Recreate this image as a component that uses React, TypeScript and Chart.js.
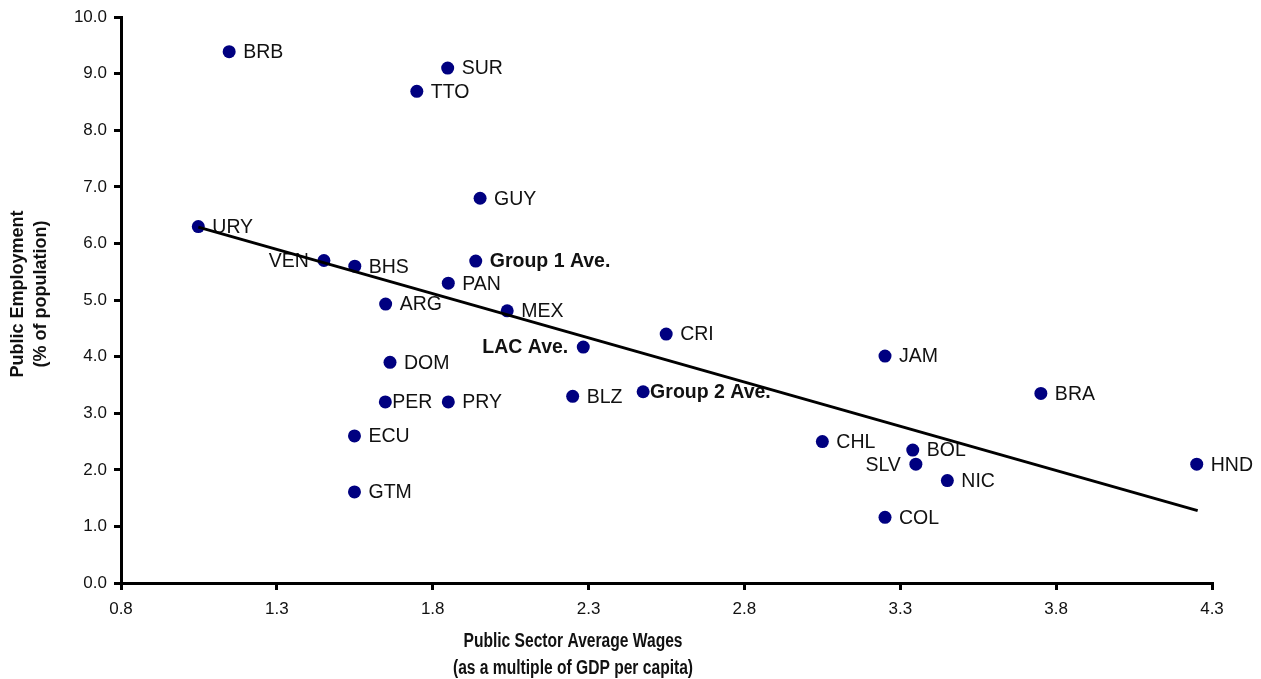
import React, { useEffect, useRef } from "react";
import { Chart, registerables } from "chart.js";

Chart.register(...registerables);

// ---- Data ----
const countries = [
  "BRB", "SUR", "TTO", "GUY", "URY", "VEN", "BHS", "Group 1 Ave.", "PAN", "ARG",
  "MEX", "CRI", "LAC Ave.", "DOM", "JAM", "BRA", "BLZ", "Group 2 Ave.", "PER", "PRY",
  "ECU", "CHL", "BOL", "SLV", "HND", "NIC", "GTM", "COL",
];
const wages = [
  1.147, 1.848, 1.749, 1.952, 1.048, 1.451, 1.550, 1.938, 1.850, 1.649,
  2.039, 2.549, 2.283, 1.663, 3.251, 3.751, 2.249, 2.475, 1.648, 1.850,
  1.549, 3.050, 3.340, 3.350, 4.251, 3.451, 1.549, 3.251,
];
const employment = [
  9.39, 9.10, 8.69, 6.80, 6.30, 5.70, 5.60, 5.69, 5.30, 4.93,
  4.81, 4.40, 4.17, 3.90, 4.01, 3.35, 3.30, 3.38, 3.20, 3.20,
  2.60, 2.50, 2.35, 2.10, 2.10, 1.81, 1.61, 1.16,
];
const trendX = [1.048, 4.254];
const trendY = [6.29, 1.28];
const xTickValues = [0.8, 1.3, 1.8, 2.3, 2.8, 3.3, 3.8, 4.3];
const xTitleLines = ["Public Sector Average Wages", "(as a multiple of GDP per capita)"];
const yTitleLines = ["Public Employment", "(% of population)"];

// label placement (styling, not data)
const leftLabels = ["VEN", "SLV", "LAC Ave."];
const nearLabels = ["PER", "Group 2 Ave."];

const SANS = '"Liberation Sans", Arial, sans-serif';

const labelPlugin = {
  id: "pointLabels",
  afterDatasetDraw(chart: any, args: any) {
    if (args.index !== 1) return;
    const ctx = chart.ctx;
    const meta = chart.getDatasetMeta(1);
    ctx.save();
    ctx.fillStyle = "#111";
    ctx.textBaseline = "middle";
    meta.data.forEach((el: any, i: number) => {
      const name = countries[i];
      const bold = name.indexOf("Ave.") >= 0;
      ctx.font = (bold ? "bold " : "") + "19.5px " + SANS;
      let x = el.x + 14;
      ctx.textAlign = "left";
      if (leftLabels.indexOf(name) >= 0) {
        x = el.x - 15;
        ctx.textAlign = "right";
      } else if (nearLabels.indexOf(name) >= 0) {
        x = el.x + 7;
      }
      ctx.fillText(name, x, el.y + 1);
    });
    ctx.restore();
  },
};

const titlePlugin = {
  id: "axisTitles",
  afterDraw(chart: any) {
    const ctx = chart.ctx;
    // x-axis title (condensed bold)
    ctx.save();
    ctx.fillStyle = "#111";
    ctx.textAlign = "center";
    ctx.textBaseline = "middle";
    ctx.font = "bold 20px " + SANS;
    ctx.translate(573, 0);
    ctx.scale(0.78, 1);
    ctx.fillText(xTitleLines[0], 0, 641);
    ctx.fillText(xTitleLines[1], 0, 668);
    ctx.restore();
    // y-axis title
    ctx.save();
    ctx.fillStyle = "#111";
    ctx.textAlign = "center";
    ctx.textBaseline = "middle";
    ctx.font = "bold 18px " + SANS;
    ctx.translate(18, 294);
    ctx.rotate(-Math.PI / 2);
    ctx.fillText(yTitleLines[0], 0, 0);
    ctx.fillText(yTitleLines[1], 0, 23);
    ctx.restore();
  },
};

export default function App() {
  const ref = useRef<HTMLCanvasElement | null>(null);
  useEffect(() => {
    if (!ref.current) return;
    const chart = new Chart(ref.current, {
      type: "scatter",
      data: {
        datasets: [
          {
            label: "Trend",
            data: trendX.map((x, i) => ({ x, y: trendY[i] })),
            showLine: true,
            borderColor: "#000",
            borderWidth: 3,
            pointRadius: 0,
            pointHoverRadius: 0,
          },
          {
            label: "Countries",
            data: wages.map((x, i) => ({ x, y: employment[i] })),
            backgroundColor: "#000080",
            borderColor: "#000080",
            borderWidth: 0,
            pointRadius: 6.5,
          },
        ],
      },
      options: {
        responsive: false,
        animation: false,
        layout: { padding: { top: 17, right: 49, bottom: 0, left: 0 } },
        plugins: {
          legend: { display: false },
          tooltip: { enabled: false },
        },
        scales: {
          x: {
            type: "linear",
            min: 0.8,
            max: 4.3,
            afterBuildTicks: (scale: any) => {
              scale.ticks = xTickValues.map((v) => ({ value: v }));
            },
            afterFit: (scale: any) => {
              scale.height = 96;
            },
            ticks: {
              color: "#111",
              font: { family: SANS, size: 17 },
              padding: 9,
              maxRotation: 0,
              autoSkip: false,
              callback: (v: any) => Number(v).toFixed(1),
            },
            grid: {
              drawOnChartArea: false,
              drawTicks: true,
              tickLength: 7,
              color: "#000",
              lineWidth: 3,
            },
            border: { display: true, color: "#000", width: 3 },
          },
          y: {
            type: "linear",
            min: 0,
            max: 10,
            afterFit: (scale: any) => {
              scale.width = 121;
            },
            ticks: {
              stepSize: 1,
              color: "#111",
              font: { family: SANS, size: 17 },
              padding: 7,
              callback: (v: any) => Number(v).toFixed(1),
            },
            grid: {
              drawOnChartArea: false,
              drawTicks: true,
              tickLength: 7,
              color: "#000",
              lineWidth: 3,
            },
            border: { display: true, color: "#000", width: 3 },
          },
        },
      },
      plugins: [labelPlugin, titlePlugin],
    } as any);
    return () => chart.destroy();
  }, []);
  return (
    <canvas
      ref={ref}
      width={1261}
      height={679}
      style={{ position: "absolute", left: 0, top: 0, width: 1261, height: 679 }}
    />
  );
}
